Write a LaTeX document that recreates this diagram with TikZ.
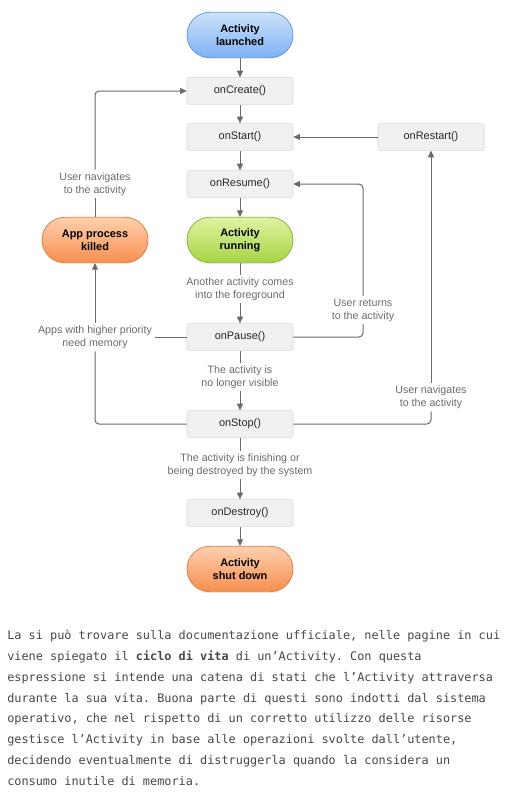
\documentclass[tikz,border=0pt]{standalone}
\usepackage{fontspec}
\setmainfont{Liberation Sans}
\setmonofont{DejaVu Sans Mono}
\usepackage{xcolor}
\usepackage{tikz}
\usetikzlibrary{arrows.meta, shadows}
\definecolor{launchtop}{HTML}{CDE2FC}
\definecolor{launchbot}{HTML}{7DB1F3}
\definecolor{launchedge}{HTML}{6399E4}
\definecolor{runtop}{HTML}{E0F3A2}
\definecolor{runbot}{HTML}{A6D443}
\definecolor{runedge}{HTML}{8DB83C}
\definecolor{killtop}{HTML}{FDD0AE}
\definecolor{killbot}{HTML}{F98F4F}
\definecolor{killedge}{HTML}{E0803F}
\definecolor{boxfill}{HTML}{F1F1F1}
\definecolor{boxborder}{HTML}{D6D6D6}
\definecolor{linegray}{HTML}{6A6A6A}
\definecolor{notegray}{HTML}{6C6C6C}
\definecolor{bodygray}{HTML}{484848}

\begin{document}
\begin{tikzpicture}[x=0.75pt, y=-0.75pt,
    state/.style={draw=boxborder, fill=boxfill, rounded corners=1.5pt, minimum width=79.5pt, minimum height=20pt, inner sep=0pt, font=\fontsize{8.2}{10}\selectfont, text=black!85},
    pill/.style={rounded corners=17pt, minimum width=79.5pt, minimum height=34pt, inner sep=0pt, align=center, line width=0.6pt, font=\fontsize{8.2}{9.8}\selectfont\bfseries, drop shadow={opacity=0.12, shadow xshift=0pt, shadow yshift=-1pt}},
    note/.style={align=center, text=notegray, inner sep=2pt, font=\fontsize{8}{9.75}\selectfont},
    flow/.style={draw=linegray, line width=0.75pt, rounded corners=3pt},
    go/.style={flow, -{Triangle[length=5pt, width=4.5pt]}}]
    \useasboundingbox[fill=white] (0,0) rectangle (518,800);

    % Main column
    \node[pill, top color=launchtop, bottom color=launchbot, draw=launchedge] (launched) at (240,35) {Activity\\launched};
    \node[state] (create) at (240,91) {onCreate()};
    \node[state] (start) at (240,137) {onStart()};
    \node[state] (restart) at (431,137) {onRestart()};
    \node[state] (resume) at (240,184) {onResume()};
    \node[pill, top color=runtop, bottom color=runbot, draw=runedge] (running) at (240,240) {Activity\\running};
    \node[pill, top color=killtop, bottom color=killbot, draw=killedge] (killed) at (95,240) {App process\\killed};
    \node[note] (fgnote) at (240,289) {Another activity comes\\into the foreground};
    \node[state] (pause) at (240,337) {onPause()};
    \node[note] (hidnote) at (240,377) {The activity is\\no longer visible};
    \node[state] (stop) at (240,424) {onStop()};
    \node[note] (endnote) at (240,465) {The activity is finishing or\\being destroyed by the system};
    \node[state] (destroy) at (240,513) {onDestroy()};
    \node[pill, top color=killtop, bottom color=killbot, draw=killedge] (shutdown) at (240,569) {Activity\\shut down};

    % Side notes
    \node[note] (navnote) at (95,184) {User navigates\\to the activity};
    \node[note] (memnote) at (95,337) {Apps with higher priority\\need memory};
    \node[note] (retnote) at (363,310) {User returns\\to the activity};
    \node[note] (renote) at (431,397) {User navigates\\to the activity};

    % Straight flow
    \draw[go] (launched) -- (create);
    \draw[go] (create) -- (start);
    \draw[go] (start) -- (resume);
    \draw[go] (resume) -- (running);
    \draw[flow] (running) -- (fgnote);
    \draw[go] (fgnote) -- (pause);
    \draw[flow] (pause) -- (hidnote);
    \draw[go] (hidnote) -- (stop);
    \draw[flow] (stop) -- (endnote);
    \draw[go] (endnote) -- (destroy);
    \draw[go] (destroy) -- (shutdown);

    % Loops
    \draw[go] (restart) -- (start);
    \draw[flow] (stop.east) -| (renote.south);
    \draw[go] (renote.north) -- (restart.south);
    \draw[flow] (pause.east) -| (retnote.south);
    \draw[go] (retnote.north) |- (resume.east);
    \draw[flow] (pause.west) -- (pause.west -| memnote.east);
    \draw[flow] (stop.west) -| (memnote.south);
    \draw[go] (memnote.north) -- (killed.south);
    \draw[flow] (killed.north) -- (navnote.south);
    \draw[go] (navnote.north) |- (create.west);

    % Text below
    \node[anchor=north west, inner sep=0pt, align=left, text=bodygray, font=\ttfamily\fontsize{8.9}{15.6}\selectfont] (body) at (7,630) {La si può trovare sulla documentazione ufficiale, nelle pagine in cui\\
viene spiegato il \textbf{ciclo di vita} di un’Activity. Con questa\\
espressione si intende una catena di stati che l’Activity attraversa\\
durante la sua vita. Buona parte di questi sono indotti dal sistema\\
operativo, che nel rispetto di un corretto utilizzo delle risorse\\
gestisce l’Activity in base alle operazioni svolte dall’utente,\\
decidendo eventualmente di distruggerla quando la considera un\\
consumo inutile di memoria.};
\end{tikzpicture}
\end{document}
